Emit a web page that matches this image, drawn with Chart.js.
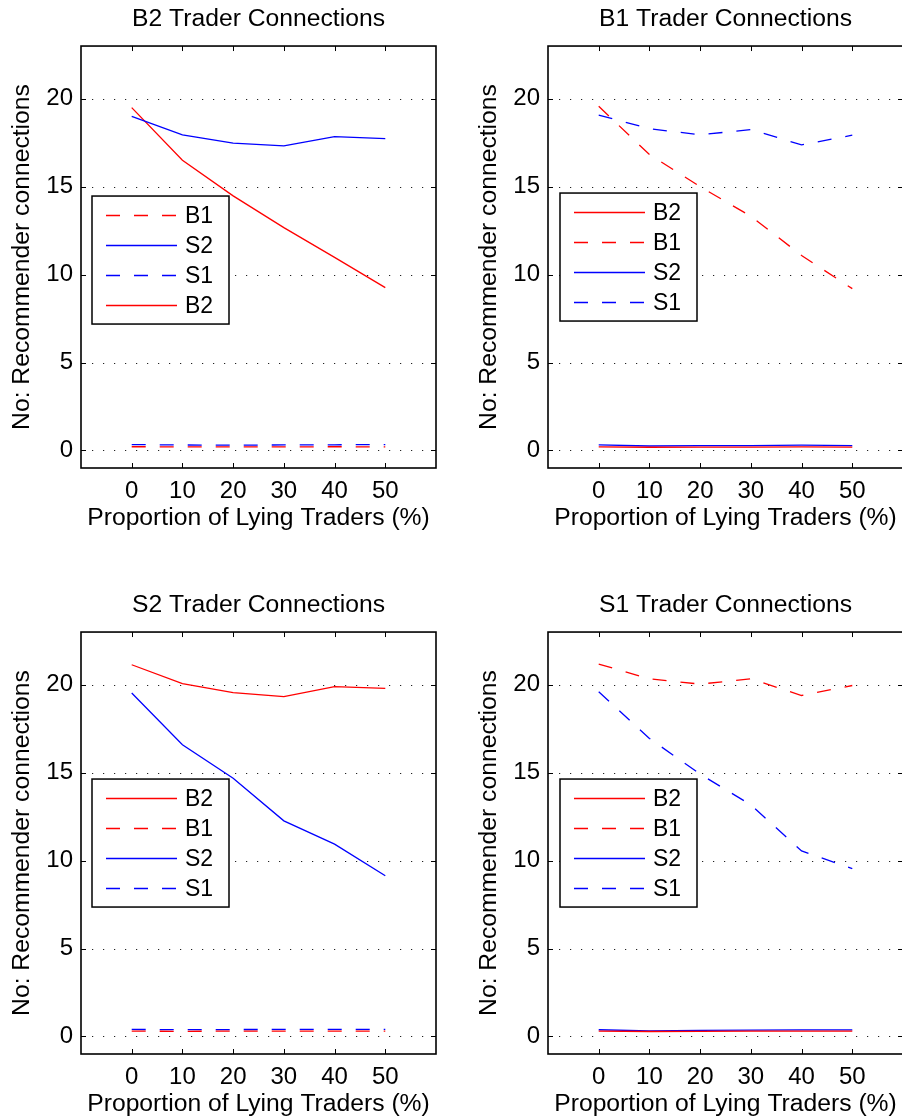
<!DOCTYPE html>
<html>
<head>
<meta charset="utf-8">
<script src="https://cdn.jsdelivr.net/npm/chart.js@4.4.1/dist/chart.umd.min.js"></script>
<style>
  html, body { margin: 0; padding: 0; background: #fff; overflow: hidden; }
  #wrap { position: relative; width: 902px; height: 1120px; overflow: hidden; }
  canvas { position: absolute; }
</style>
</head>
<body>
<div id="wrap">
  <canvas id="panelB2" width="451" height="560" style="left:0px;top:0px"></canvas>
  <canvas id="panelB1" width="451" height="560" style="left:467px;top:0px"></canvas>
  <canvas id="panelS2" width="451" height="560" style="left:0px;top:586px"></canvas>
  <canvas id="panelS1" width="451" height="560" style="left:467px;top:586px"></canvas>
</div>
<script>
// x values and tick labels
const lyingPct = [0, 10, 20, 30, 40, 50];
const xTicks = [0, 10, 20, 30, 40, 50];
const yTicks = [0, 5, 10, 15, 20];

// B2 Trader Connections
const b2_B1 = [0.21, 0.20, 0.20, 0.20, 0.21, 0.20];
const b2_S2 = [19.0, 17.95, 17.48, 17.32, 17.85, 17.73];
const b2_S1 = [0.33, 0.31, 0.30, 0.31, 0.32, 0.33];
const b2_B2 = [19.5, 16.5, 14.48, 12.67, 10.98, 9.26];

// B1 Trader Connections
const b1_B2 = [0.20, 0.18, 0.19, 0.19, 0.20, 0.19];
const b1_B1 = [19.57, 16.83, 15.0, 13.32, 11.09, 9.2];
const b1_S2 = [0.32, 0.25, 0.27, 0.27, 0.30, 0.27];
const b1_S1 = [19.07, 18.3, 17.95, 18.25, 17.38, 17.93];

// S2 Trader Connections
const s2_B2 = [21.14, 20.06, 19.55, 19.33, 19.9, 19.8];
const s2_B1 = [0.30, 0.29, 0.30, 0.30, 0.30, 0.30];
const s2_S2 = [19.53, 16.59, 14.68, 12.26, 10.94, 9.14];
const s2_S1 = [0.40, 0.38, 0.39, 0.40, 0.40, 0.40];

// S1 Trader Connections
const s1_B2 = [0.30, 0.28, 0.29, 0.30, 0.30, 0.30];
const s1_B1 = [21.18, 20.34, 20.04, 20.34, 19.39, 19.96];
const s1_S2 = [0.38, 0.32, 0.34, 0.36, 0.37, 0.37];
const s1_S1 = [19.6, 16.95, 14.92, 13.17, 10.55, 9.54];

const RED = '#ff0000';
const BLUE = '#0000ff';
const FONT = 'Liberation Sans, Arial, Helvetica, sans-serif';

function series(label, values, color, dashed) {
  return {
    label: label,
    data: values.map((v, i) => ({ x: lyingPct[i], y: v })),
    borderColor: color,
    backgroundColor: color,
    borderDash: dashed ? [14, 14] : [],
    borderWidth: 1.3,
    pointRadius: 0,
    tension: 0,
    fill: false,
  };
}

// dotted y grid, box and inward tick marks like matlab axes
const matlabAxes = {
  id: 'matlabAxes',
  beforeDatasetsDraw(chart) {
    const { ctx, chartArea: a, scales: { y } } = chart;
    ctx.save();
    ctx.strokeStyle = '#222';
    ctx.lineWidth = 1.2;
    ctx.setLineDash([1.2, 9.8]);
    y.ticks.forEach(t => {
      const py = Math.round(y.getPixelForValue(t.value)) + 0.5;
      ctx.beginPath();
      ctx.moveTo(a.left, py);
      ctx.lineTo(a.right, py);
      ctx.stroke();
    });
    ctx.restore();
  },
  afterDatasetsDraw(chart) {
    const { ctx, chartArea: a, scales: { x, y } } = chart;
    ctx.save();
    ctx.strokeStyle = '#000';
    ctx.lineWidth = 1;
    x.ticks.forEach(t => {
      const px = Math.round(x.getPixelForValue(t.value)) + 0.5;
      ctx.beginPath();
      ctx.moveTo(px, a.bottom); ctx.lineTo(px, a.bottom - 5);
      ctx.moveTo(px, a.top); ctx.lineTo(px, a.top + 5);
      ctx.stroke();
    });
    y.ticks.forEach(t => {
      const py = Math.round(y.getPixelForValue(t.value)) + 0.5;
      ctx.beginPath();
      ctx.moveTo(a.left, py); ctx.lineTo(a.left + 5, py);
      ctx.moveTo(a.right, py); ctx.lineTo(a.right - 5, py);
      ctx.stroke();
    });
    ctx.lineWidth = 1.6;
    ctx.strokeRect(a.left, a.top, a.right - a.left, a.bottom - a.top);
    ctx.restore();
  }
};

// boxed legend inside the plot area
const boxLegend = {
  id: 'boxLegend',
  afterDraw(chart, args, opts) {
    const { ctx, chartArea: a } = chart;
    const left = a.left + opts.dx;
    const top = a.top + opts.dy;
    ctx.save();
    ctx.fillStyle = '#fff';
    ctx.fillRect(left, top, opts.width, opts.height);
    ctx.strokeStyle = '#000';
    ctx.lineWidth = 1.5;
    ctx.strokeRect(left, top, opts.width, opts.height);
    chart.data.datasets.forEach((ds, i) => {
      const yy = Math.round(top + 19 + i * 30) + 0.5;
      ctx.strokeStyle = ds.borderColor;
      ctx.lineWidth = ds.borderWidth;
      ctx.setLineDash(ds.borderDash);
      ctx.beginPath();
      ctx.moveTo(left + 14, yy);
      ctx.lineTo(left + 85, yy);
      ctx.stroke();
      ctx.setLineDash([]);
      ctx.fillStyle = '#000';
      ctx.font = '23px ' + FONT;
      ctx.textAlign = 'left';
      ctx.textBaseline = 'middle';
      ctx.fillText(ds.label, left + 93, yy + 1);
    });
    ctx.restore();
  }
};

function makePanel(id, title, datasets, dx, dy) {
  return new Chart(document.getElementById(id), {
    type: 'line',
    data: { datasets: datasets },
    plugins: [matlabAxes, boxLegend],
    options: {
      responsive: false,
      animation: false,
      devicePixelRatio: 1,
      layout: { padding: { left: 0, right: 15, top: 0, bottom: 0 } },
      plugins: {
        legend: { display: false },
        tooltip: { enabled: false },
        title: {
          display: true,
          text: title,
          color: '#000',
          fullSize: false,
          font: { family: FONT, size: 24.7, weight: 'normal' },
          padding: { top: 4.2, bottom: 12.2 },
        },
        boxLegend: { dx: dx, dy: dy, width: 137, height: 128 },
      },
      scales: {
        x: {
          type: 'linear',
          min: -10,
          max: 60,
          afterBuildTicks: s => { s.ticks = xTicks.map(v => ({ value: v })); },
          afterFit: s => { s.height = 92; },
          grid: { display: false, drawTicks: false },
          border: { display: false },
          ticks: { color: '#000', padding: 9, font: { family: FONT, size: 24 } },
          title: {
            display: true,
            text: 'Proportion of Lying Traders (%)',
            color: '#000',
            font: { family: FONT, size: 24.7 },
            padding: { top: 0, bottom: 27.2 },
          },
        },
        y: {
          min: -1,
          max: 23,
          afterBuildTicks: s => { s.ticks = yTicks.map(v => ({ value: v })); },
          afterFit: s => { s.width = 81; },
          grid: { display: false, drawTicks: false },
          border: { display: false },
          ticks: { color: '#000', padding: 8, font: { family: FONT, size: 24 } },
          title: {
            display: true,
            text: 'No: Recommender connections',
            color: '#000',
            font: { family: FONT, size: 24.7 },
            padding: { top: 7.2, bottom: 0 },
          },
        },
      },
    },
  });
}

makePanel('panelB2', 'B2 Trader Connections', [
  series('B1', b2_B1, RED, true),
  series('S2', b2_S2, BLUE, false),
  series('S1', b2_S1, BLUE, true),
  series('B2', b2_B2, RED, false),
], 11, 150);

makePanel('panelB1', 'B1 Trader Connections', [
  series('B2', b1_B2, RED, false),
  series('B1', b1_B1, RED, true),
  series('S2', b1_S2, BLUE, false),
  series('S1', b1_S1, BLUE, true),
], 12, 147);

makePanel('panelS2', 'S2 Trader Connections', [
  series('B2', s2_B2, RED, false),
  series('B1', s2_B1, RED, true),
  series('S2', s2_S2, BLUE, false),
  series('S1', s2_S1, BLUE, true),
], 11, 147);

makePanel('panelS1', 'S1 Trader Connections', [
  series('B2', s1_B2, RED, false),
  series('B1', s1_B1, RED, true),
  series('S2', s1_S2, BLUE, false),
  series('S1', s1_S1, BLUE, true),
], 12, 147);
</script>
</body>
</html>
